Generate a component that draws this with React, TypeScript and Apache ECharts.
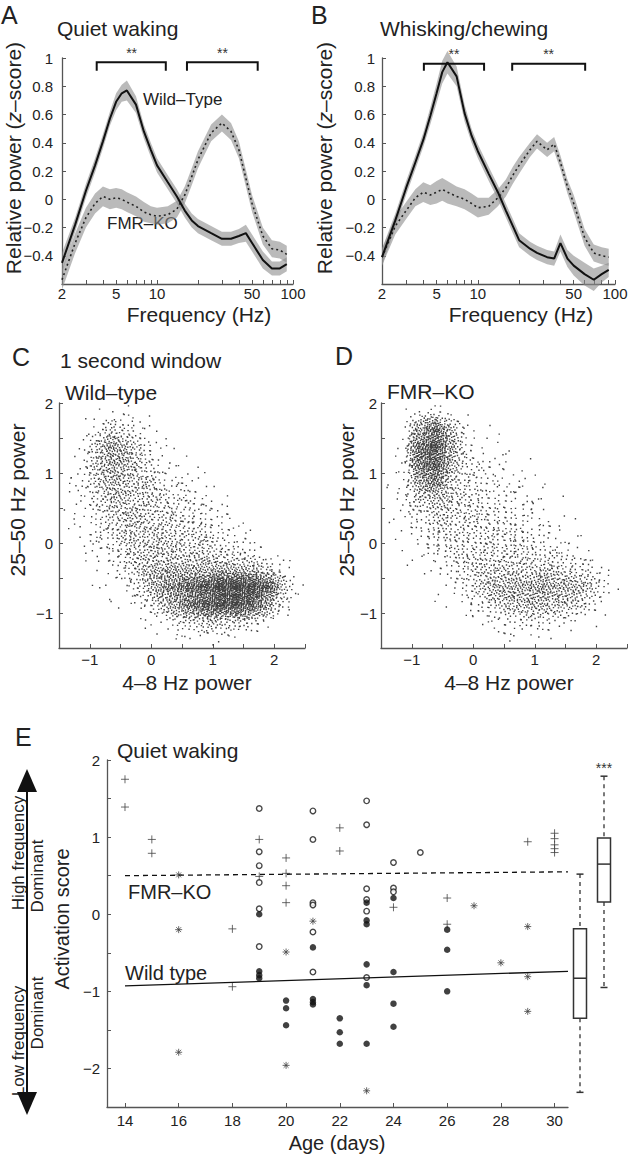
import React, { useEffect, useRef } from 'react';
import * as echarts from 'echarts';

const FONT = '"Liberation Sans", Arial, Helvetica, sans-serif';
const INK = '#222';
const AXIS = '#555';
const BAND = 'rgba(140,140,140,0.6)';

// ---------- Panels A & B: spectra ----------
const freqA = [2, 2.5, 3, 3.5, 4, 4.5, 5, 5.5, 6, 7, 8, 9, 10, 12, 14, 16, 18, 20, 25, 30, 35, 40, 45, 50, 60, 70, 80, 90];
const quietWT = [-0.45, -0.18, 0.06, 0.24, 0.41, 0.57, 0.69, 0.75, 0.77, 0.67, 0.48, 0.35, 0.24, 0.12, 0.02, -0.08, -0.15, -0.19, -0.24, -0.28, -0.28, -0.26, -0.24, -0.31, -0.43, -0.49, -0.49, -0.46];
const quietWTsem = [0.07, 0.05, 0.05, 0.05, 0.05, 0.05, 0.06, 0.06, 0.07, 0.06, 0.05, 0.05, 0.05, 0.05, 0.05, 0.05, 0.05, 0.05, 0.05, 0.05, 0.05, 0.05, 0.06, 0.06, 0.06, 0.05, 0.05, 0.05];
const quietKO = [-0.57, -0.31, -0.13, -0.03, 0.02, 0.0, 0.01, 0.0, -0.02, -0.05, -0.09, -0.11, -0.12, -0.11, -0.07, 0.03, 0.16, 0.28, 0.47, 0.54, 0.48, 0.35, 0.15, -0.03, -0.26, -0.35, -0.36, -0.39];
const quietKOsem = [0.07, 0.07, 0.07, 0.07, 0.07, 0.07, 0.07, 0.07, 0.07, 0.07, 0.07, 0.06, 0.06, 0.06, 0.06, 0.06, 0.06, 0.06, 0.06, 0.06, 0.06, 0.06, 0.06, 0.06, 0.06, 0.06, 0.06, 0.06];

const freqB = [2, 2.5, 3, 3.5, 4, 4.5, 5, 5.5, 6, 7, 8, 9, 10, 12, 14, 16, 18, 20, 24, 27, 32, 36, 40, 45, 50, 60, 70, 80, 90];
const whiskWT = [-0.41, -0.15, 0.08, 0.26, 0.42, 0.59, 0.75, 0.9, 0.97, 0.87, 0.61, 0.45, 0.34, 0.18, 0.05, -0.08, -0.19, -0.29, -0.35, -0.38, -0.41, -0.42, -0.31, -0.42, -0.47, -0.53, -0.57, -0.53, -0.5];
const whiskWTsem = [0.06, 0.05, 0.05, 0.05, 0.05, 0.06, 0.07, 0.08, 0.08, 0.07, 0.06, 0.05, 0.05, 0.05, 0.05, 0.05, 0.05, 0.05, 0.05, 0.05, 0.05, 0.05, 0.06, 0.06, 0.07, 0.08, 0.08, 0.06, 0.05];
const whiskKO = [-0.41, -0.19, -0.08, 0.01, 0.05, 0.03, 0.05, 0.07, 0.05, 0.02, 0.0, -0.03, -0.06, -0.05, 0.01, 0.08, 0.17, 0.24, 0.35, 0.41, 0.35, 0.39, 0.26, 0.09, -0.03, -0.27, -0.38, -0.4, -0.41];
const whiskKOsem = [0.06, 0.06, 0.06, 0.06, 0.07, 0.07, 0.08, 0.08, 0.08, 0.07, 0.07, 0.07, 0.07, 0.06, 0.06, 0.06, 0.06, 0.06, 0.05, 0.05, 0.05, 0.05, 0.05, 0.05, 0.06, 0.06, 0.06, 0.06, 0.06];

// significance brackets: [fromHz, toHz, topValue, footValue]
const bracketsA = [[3.6, 11.6, 0.97, 0.91], [16.6, 55, 0.97, 0.91]];
const bracketsB = [[4.04, 11.1, 0.96, 0.91], [17.8, 60.6, 0.96, 0.91]];
const starsA = [[6.5, 1.035, '**'], [30.3, 1.035, '**']];
const starsB = [[6.7, 1.025, '**'], [32.8, 1.025, '**']];

const logTicks = [2, 3, 4, 5, 6, 7, 8, 9, 10, 20, 30, 40, 50, 60, 70, 80, 90, 100];
const logLabels = [2, 5, 10, 50, 100];

// ---------- Panels C & D: point density (counts per 0.25 x 0.25 bin) ----------
// bins: x from -1.5 (16 columns), y from 2 downward (14 rows)
const binX0 = -1.5;
const binYTop = 2;
const binSize = 0.25;
const wtDensity = [
  [0, 0, 0, 3, 3, 0, 0, 0, 0, 0, 0, 0, 0, 0, 0, 0],
  [0, 0, 8, 28, 20, 5, 1, 0, 0, 0, 0, 0, 0, 0, 0, 0],
  [0, 3, 32, 65, 42, 15, 5, 1, 0, 0, 0, 0, 0, 0, 0, 0],
  [0, 6, 35, 60, 42, 22, 10, 4, 1, 0, 0, 0, 0, 0, 0, 0],
  [1, 8, 28, 48, 40, 28, 18, 10, 5, 2, 0, 0, 0, 0, 0, 0],
  [1, 6, 20, 38, 36, 28, 24, 18, 12, 7, 3, 0, 0, 0, 0, 0],
  [1, 5, 13, 28, 34, 32, 27, 24, 19, 13, 8, 3, 0, 0, 0, 0],
  [1, 4, 9, 20, 31, 34, 30, 27, 24, 20, 13, 7, 3, 0, 0, 0],
  [0, 2, 5, 13, 28, 36, 35, 32, 30, 27, 22, 16, 9, 3, 0, 0],
  [0, 1, 2, 6, 20, 38, 50, 52, 50, 52, 52, 48, 40, 26, 8, 0],
  [0, 0, 1, 2, 7, 32, 65, 90, 115, 145, 175, 185, 170, 135, 40, 2],
  [0, 0, 0, 1, 2, 10, 32, 60, 100, 140, 160, 160, 130, 70, 15, 0],
  [0, 0, 0, 0, 0, 1, 5, 12, 24, 32, 32, 26, 16, 6, 1, 0],
  [0, 0, 0, 0, 0, 0, 0, 1, 2, 2, 1, 1, 0, 0, 0, 0],
];
const koDensity = [
  [0, 0, 4, 8, 3, 0, 0, 0, 0, 0, 0, 0, 0, 0, 0, 0],
  [0, 2, 60, 110, 45, 6, 2, 1, 0, 0, 0, 0, 0, 0, 0, 0],
  [0, 4, 110, 150, 60, 12, 5, 2, 1, 0, 0, 0, 0, 0, 0, 0],
  [0, 6, 100, 140, 50, 16, 9, 5, 2, 1, 0, 0, 0, 0, 0, 0],
  [1, 8, 60, 90, 35, 18, 13, 10, 6, 3, 1, 0, 0, 0, 0, 0],
  [1, 6, 30, 45, 30, 20, 17, 14, 10, 6, 3, 1, 0, 0, 0, 0],
  [1, 4, 14, 26, 26, 23, 20, 18, 14, 10, 6, 2, 0, 0, 0, 0],
  [0, 3, 8, 17, 21, 22, 22, 20, 18, 14, 10, 6, 2, 0, 0, 0],
  [0, 1, 4, 10, 18, 22, 24, 24, 22, 20, 16, 12, 6, 2, 0, 0],
  [0, 0, 2, 4, 10, 22, 30, 30, 30, 32, 30, 28, 22, 12, 3, 0],
  [0, 0, 0, 1, 3, 14, 35, 45, 50, 55, 60, 55, 50, 35, 10, 0],
  [0, 0, 0, 0, 1, 4, 15, 28, 40, 45, 48, 42, 30, 15, 3, 0],
  [0, 0, 0, 0, 0, 1, 2, 6, 10, 14, 12, 8, 4, 1, 0, 0],
  [0, 0, 0, 0, 0, 0, 0, 1, 1, 1, 1, 0, 0, 0, 0, 0],
];

// ---------- Panel E: activation score vs age ----------
const plusPts = [[14, 1.75], [14, 1.39], [15, 0.97], [15, 0.79], [18, -0.19], [18, -0.94], [19, 0.97], [19, 0.49], [20, 0.73], [20, 0.53], [20, 0.37], [20, 0.15], [22, 1.12], [22, 0.82], [24, 0.09], [26, 0.21], [26, -0.13], [29, 0.94], [30, 1.05], [30, 0.98], [30, 0.9], [30, 0.85], [30, 0.8]];
const openPts = [[19, 1.37], [19, 0.81], [19, 0.63], [19, 0.41], [19, 0.07], [19, -0.42], [21, 1.34], [21, 0.97], [21, 0.15], [21, 0.12], [21, -0.23], [21, -0.75], [23, 1.47], [23, 1.16], [23, 0.33], [23, 0.19], [23, 0.04], [23, -0.82], [24, 0.67], [24, 0.34], [24, 0.29], [25, 0.8]];
const filledPts = [[19, 0.0], [19, -0.74], [19, -0.79], [19, -0.83], [20, -1.12], [20, -1.22], [20, -1.44], [21, -0.43], [21, -1.1], [21, -1.14], [21, -1.17], [22, -1.35], [22, -1.53], [22, -1.68], [23, 0.15], [23, -0.08], [23, -0.13], [23, -0.65], [23, -0.92], [23, -1.68], [24, 0.21], [24, -0.75], [24, -1.16], [24, -1.46], [26, -0.2], [26, -0.46], [26, -1.0]];
const starPts = [[16, 0.51], [16, -0.2], [16, -1.79], [20, -0.49], [20, -1.96], [21, -0.09], [23, -2.29], [27, 0.11], [28, -0.63], [29, -0.16], [29, -0.81], [29, -1.26]];
const koFit = [[14, 0.5], [30.5, 0.55]];
const wtFit = [[14, -0.93], [30.5, -0.74]];
const ageTicks = [14, 16, 18, 20, 22, 24, 26, 28, 30];
const boxGroups = ['Wild type', 'FMR-KO'];
// [min, q1, median, q3, max]
const wtBox = [-2.31, -1.35, -0.83, -0.19, 0.52];
const koBox = [-0.95, 0.16, 0.65, 0.99, 1.79];

// ---------- helpers ----------
const minus = (s: string) => s.replace('-', '\u2212');
const intLabel = (v: number) => (Math.abs(v - Math.round(v)) < 1e-6 ? minus(String(Math.round(v))) : '');
const tenthLabel = (v: number) => {
  const r = Math.round(v * 10) / 10;
  return r < -0.5 ? '' : minus(String(r));
};

const axisLine = { show: true, onZero: false, lineStyle: { color: AXIS, width: 1.3 } };
const axisTick = { show: true, inside: true, length: 4, lineStyle: { color: AXIS, width: 1 } };
const lbl = (margin: number, extra: any = {}) => ({ color: INK, fontSize: 15, fontFamily: FONT, margin, ...extra });

// places each bin's count quasi-uniformly, with a soft spread over the bin's neighbourhood
function densityToPoints(grid: number[][]) {
  const pts: number[][] = [];
  let k = 0;
  grid.forEach((row, r) => {
    const y0 = binYTop - (r + 1) * binSize;
    row.forEach((n, c) => {
      const x0 = binX0 + c * binSize;
      for (let i = 0; i < n; i++, k++) {
        const u = (0.5 + k * 0.7548776662466927) % 1;
        const v = (0.5 + k * 0.5698402909980532) % 1;
        const su = u < 0.5 ? Math.sqrt(2 * u) - 1 : 1 - Math.sqrt(2 - 2 * u);
        const sv = v < 0.5 ? Math.sqrt(2 * v) - 1 : 1 - Math.sqrt(2 - 2 * v);
        pts.push([x0 + (0.5 + su) * binSize, y0 + (0.5 + sv) * binSize]);
      }
    });
  });
  return pts;
}

const txt = (text: string, x: number, y: number, size: number, o: any = {}) => ({
  type: 'text',
  x,
  y,
  rotation: o.rot || 0,
  silent: true,
  style: {
    text,
    fontSize: size,
    fontFamily: FONT,
    fontStyle: o.italic ? 'italic' : 'normal',
    fill: INK,
    align: o.align || 'left',
    textAlign: o.align || 'left',
    verticalAlign: 'middle',
    textVerticalAlign: 'middle',
  },
});

const zLabel = (x: number, y: number) => ({
  type: 'text',
  x,
  y,
  rotation: Math.PI / 2,
  silent: true,
  style: {
    text: '{a|Relative power (}{b|z}{a|\u2013score)}',
    align: 'center',
    textAlign: 'center',
    verticalAlign: 'middle',
    textVerticalAlign: 'middle',
    rich: {
      a: { fontSize: 21, fontFamily: FONT, fill: INK },
      b: { fontSize: 21, fontFamily: FONT, fill: INK, fontStyle: 'italic' },
    },
  },
});

const bandSeries = (idx: number, freqs: number[], mean: number[], sem: number[]) => ({
  type: 'custom',
  xAxisIndex: idx,
  yAxisIndex: idx,
  clip: false,
  silent: true,
  data: [[freqs[0], mean[0]]],
  renderItem: (_p: any, api: any) => {
    const up = freqs.map((f, i) => api.coord([f, mean[i] + sem[i]]));
    const lo = freqs.map((f, i) => api.coord([f, mean[i] - sem[i]])).reverse();
    return { type: 'polygon', shape: { points: up.concat(lo) }, style: { fill: BAND, stroke: 'none' } };
  },
});

const meanLine = (idx: number, freqs: number[], mean: number[], dotted: boolean) => ({
  type: 'line',
  xAxisIndex: idx,
  yAxisIndex: idx,
  clip: false,
  silent: true,
  symbol: 'none',
  data: freqs.map((f, i) => [f, mean[i]]),
  lineStyle: dotted ? { color: INK, width: 1.6, type: [2, 3] } : { color: '#111', width: 2 },
});

const bracketSeries = (idx: number, br: number[][]) => ({
  type: 'custom',
  xAxisIndex: idx,
  yAxisIndex: idx,
  clip: false,
  silent: true,
  data: br,
  encode: { x: [0, 1], y: [2, 3] },
  renderItem: (_p: any, api: any) => {
    const a = api.coord([api.value(0), api.value(3)]);
    const b = api.coord([api.value(0), api.value(2)]);
    const c = api.coord([api.value(1), api.value(2)]);
    const d = api.coord([api.value(1), api.value(3)]);
    return { type: 'polyline', shape: { points: [a, b, c, d] }, style: { stroke: '#111', lineWidth: 2, fill: 'none' } };
  },
});

const textSeries = (xi: number, yi: number, items: any[], size: number) => ({
  type: 'custom',
  xAxisIndex: xi,
  yAxisIndex: yi,
  clip: false,
  silent: true,
  data: items.map((d) => [d[0], d[1]]),
  renderItem: (p: any, api: any) => {
    const c = api.coord([api.value(0), api.value(1)]);
    return {
      type: 'text',
      x: c[0],
      y: c[1],
      style: {
        text: items[p.dataIndex][2],
        fontSize: size,
        fontFamily: FONT,
        fill: '#333',
        align: 'center',
        textAlign: 'center',
        verticalAlign: 'middle',
        textVerticalAlign: 'middle',
      },
    };
  },
});

function buildOption(): any {
  const logX = (gi: number) => ({
    type: 'log',
    logBase: 10,
    gridIndex: gi,
    min: 2,
    max: 100,
    axisLine,
    axisTick: { ...axisTick, customValues: logTicks },
    axisLabel: lbl(2, { customValues: logLabels, showMinLabel: true, showMaxLabel: true }),
    splitLine: { show: false },
    minorTick: { show: false },
  });
  const relY = (gi: number, margin: number) => ({
    type: 'value',
    gridIndex: gi,
    min: -0.6,
    max: 1,
    interval: 0.2,
    axisLine,
    axisTick,
    axisLabel: lbl(margin, { formatter: tenthLabel, showMinLabel: true, showMaxLabel: true }),
    splitLine: { show: false },
  });
  const scatX = (gi: number) => ({
    type: 'value',
    gridIndex: gi,
    min: -1.5,
    max: 2.5,
    interval: 0.5,
    axisLine,
    axisTick,
    axisLabel: lbl(4, { formatter: intLabel }),
    splitLine: { show: false },
  });
  const scatY = (gi: number, margin: number) => ({
    type: 'value',
    gridIndex: gi,
    min: -1.5,
    max: 2,
    interval: 0.5,
    axisLine,
    axisTick,
    axisLabel: lbl(margin, { formatter: intLabel, showMaxLabel: true }),
    splitLine: { show: false },
  });

  const boxData = [[0, ...wtBox], [1, ...koBox]];
  const cloud = (gi: number, pts: number[][]) => ({
    type: 'scatter',
    xAxisIndex: gi,
    yAxisIndex: gi,
    large: true,
    largeThreshold: 500,
    symbol: 'rect',
    symbolSize: 1.4,
    itemStyle: { color: '#111' },
    silent: true,
    data: pts,
  });

  return {
    animation: false,
    backgroundColor: '#fff',
    grid: [
      { left: 62, top: 58, width: 231, height: 226, outerBoundsMode: 'none' },
      { left: 382, top: 58, width: 233, height: 226, outerBoundsMode: 'none' },
      { left: 59, top: 403, width: 246, height: 245, outerBoundsMode: 'none' },
      { left: 381, top: 403, width: 246, height: 245, outerBoundsMode: 'none' },
      { left: 107, top: 760, width: 461, height: 347, outerBoundsMode: 'none' },
      { left: 568, top: 760, width: 48, height: 347, outerBoundsMode: 'none' },
    ],
    xAxis: [
      logX(0),
      logX(1),
      scatX(2),
      scatX(3),
      {
        type: 'value',
        gridIndex: 4,
        min: 13.33,
        max: 30.5,
        axisLine,
        axisTick: { ...axisTick, customValues: ageTicks },
        axisLabel: lbl(6, { customValues: ageTicks }),
        splitLine: { show: false },
      },
      { type: 'category', gridIndex: 5, data: boxGroups, show: false },
    ],
    yAxis: [
      relY(0, 9),
      relY(1, 7),
      scatY(2, 6),
      scatY(3, 4),
      {
        type: 'value',
        gridIndex: 4,
        min: -2.5,
        max: 2,
        interval: 0.5,
        axisLine,
        axisTick,
        axisLabel: lbl(7, { formatter: intLabel, showMaxLabel: true }),
        splitLine: { show: false },
      },
      { type: 'value', gridIndex: 5, min: -2.5, max: 2, show: false },
    ],
    series: [
      bandSeries(0, freqA, quietWT, quietWTsem),
      bandSeries(0, freqA, quietKO, quietKOsem),
      meanLine(0, freqA, quietKO, true),
      meanLine(0, freqA, quietWT, false),
      bracketSeries(0, bracketsA),
      textSeries(0, 0, starsA, 14),

      bandSeries(1, freqB, whiskWT, whiskWTsem),
      bandSeries(1, freqB, whiskKO, whiskKOsem),
      meanLine(1, freqB, whiskKO, true),
      meanLine(1, freqB, whiskWT, false),
      bracketSeries(1, bracketsB),
      textSeries(1, 1, starsB, 14),

      cloud(2, densityToPoints(wtDensity)),
      cloud(3, densityToPoints(koDensity)),

      {
        type: 'line',
        xAxisIndex: 4,
        yAxisIndex: 4,
        symbol: 'none',
        silent: true,
        data: koFit,
        lineStyle: { color: '#111', width: 1.3, type: [5, 4] },
      },
      {
        type: 'line',
        xAxisIndex: 4,
        yAxisIndex: 4,
        symbol: 'none',
        silent: true,
        data: wtFit,
        lineStyle: { color: '#111', width: 1.3 },
      },
      {
        type: 'scatter',
        xAxisIndex: 4,
        yAxisIndex: 4,
        silent: true,
        symbol: 'path://M5,0V10M0,5H10',
        symbolSize: 8,
        itemStyle: { color: '#444', borderColor: '#444', borderWidth: 1 },
        data: plusPts,
      },
      {
        type: 'scatter',
        xAxisIndex: 4,
        yAxisIndex: 4,
        silent: true,
        symbol: 'path://M5,0V10M0,5H10M1.5,1.5L8.5,8.5M8.5,1.5L1.5,8.5',
        symbolSize: 7,
        itemStyle: { color: '#444', borderColor: '#444', borderWidth: 1 },
        data: starPts,
      },
      {
        type: 'scatter',
        xAxisIndex: 4,
        yAxisIndex: 4,
        silent: true,
        symbol: 'circle',
        symbolSize: 5.5,
        itemStyle: { color: '#fff', borderColor: '#1a1a1a', borderWidth: 1.4 },
        data: openPts,
      },
      {
        type: 'scatter',
        xAxisIndex: 4,
        yAxisIndex: 4,
        silent: true,
        symbol: 'circle',
        symbolSize: 6.5,
        itemStyle: { color: '#111' },
        data: filledPts,
      },
      {
        type: 'custom',
        xAxisIndex: 5,
        yAxisIndex: 5,
        clip: false,
        silent: true,
        data: boxData,
        encode: { x: 0, y: [1, 2, 3, 4, 5] },
        renderItem: (_p: any, api: any) => {
          const i = api.value(0);
          const p = [1, 2, 3, 4, 5].map((d) => api.coord([i, api.value(d)]));
          const x = p[0][0];
          const half = 6.5;
          const dash = { stroke: '#333', lineWidth: 1.3, lineDash: [4, 4] };
          const solid = { stroke: '#333', lineWidth: 1.5 };
          return {
            type: 'group',
            children: [
              { type: 'line', shape: { x1: x, y1: p[4][1], x2: x, y2: p[3][1] }, style: dash },
              { type: 'line', shape: { x1: x, y1: p[1][1], x2: x, y2: p[0][1] }, style: dash },
              { type: 'line', shape: { x1: x - 3.5, y1: p[4][1], x2: x + 3.5, y2: p[4][1] }, style: solid },
              { type: 'line', shape: { x1: x - 3.5, y1: p[0][1], x2: x + 3.5, y2: p[0][1] }, style: solid },
              { type: 'rect', shape: { x: x - half, y: p[3][1], width: 2 * half, height: p[1][1] - p[3][1] }, style: { fill: '#fff', ...solid } },
              { type: 'line', shape: { x1: x - half, y1: p[2][1], x2: x + half, y2: p[2][1] }, style: solid },
            ],
          };
        },
      },
      textSeries(5, 5, [[1, 1.9, '***']], 14),
    ],
    graphic: [
      txt('A', 1, 15, 25),
      txt('Quiet waking', 57, 28, 21),
      txt('B', 311, 15, 25),
      txt('Whisking/chewing', 380, 28, 21),
      zLabel(13, 158),
      zLabel(324, 158),
      txt('Frequency (Hz)', 199, 314, 21, { align: 'center' }),
      txt('Frequency (Hz)', 521, 314, 21, { align: 'center' }),
      txt('Wild\u2013Type', 143, 99, 17),
      txt('FMR\u2013KO', 107, 223, 17),

      txt('C', 12, 357, 25),
      txt('1 second window', 60, 360, 21),
      txt('Wild\u2013type', 65, 392, 21),
      txt('D', 335, 356, 25),
      txt('FMR\u2013KO', 387, 391, 21),
      txt('25\u201350 Hz power', 17, 500, 21, { align: 'center', rot: Math.PI / 2 }),
      txt('25\u201350 Hz power', 346, 500, 21, { align: 'center', rot: Math.PI / 2 }),
      txt('4\u20138 Hz power', 187, 682, 21, { align: 'center' }),
      txt('4\u20138 Hz power', 509, 682, 21, { align: 'center' }),

      txt('E', 15, 737, 25),
      txt('Quiet waking', 117, 750, 21),
      txt('Activation score', 62, 919, 20, { align: 'center', rot: Math.PI / 2 }),
      txt('High frequency', 18, 853, 17, { align: 'center', rot: Math.PI / 2 }),
      txt('Dominant', 37, 876, 17, { align: 'center', rot: Math.PI / 2 }),
      txt('Low frequency', 18, 1041, 17, { align: 'center', rot: Math.PI / 2 }),
      txt('Dominant', 37, 1013, 17, { align: 'center', rot: Math.PI / 2 }),
      txt('FMR\u2013KO', 128, 892, 20),
      txt('Wild type', 125, 973, 20),
      txt('Age (days)', 337, 1143, 20, { align: 'center' }),
      {
        type: 'line',
        silent: true,
        shape: { x1: 27, y1: 788, x2: 27, y2: 1094 },
        style: { stroke: '#111', lineWidth: 2 },
      },
      {
        type: 'polygon',
        silent: true,
        shape: { points: [[27, 769], [17, 792], [37, 792]] },
        style: { fill: '#111' },
      },
      {
        type: 'polygon',
        silent: true,
        shape: { points: [[27, 1115], [17, 1092], [37, 1092]] },
        style: { fill: '#111' },
      },
    ],
  };
}

export default function App() {
  const ref = useRef<HTMLDivElement>(null);
  useEffect(() => {
    if (!ref.current) return;
    const chart = echarts.init(ref.current, null, { renderer: 'svg' });
    chart.setOption(buildOption());
    return () => chart.dispose();
  }, []);
  return (
    <div
      ref={ref}
      style={{ position: 'absolute', left: 0, top: 0, width: 632, height: 1155, background: '#fff' }}
    />
  );
}
